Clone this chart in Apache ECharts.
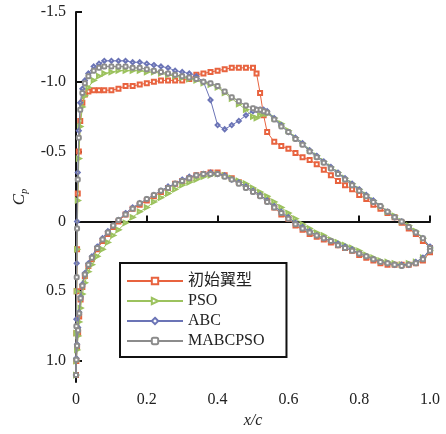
<!DOCTYPE html>
<html>
<head>
    <meta charset="utf-8">
    <title>Cp</title>
    <style>html,body{margin:0;padding:0;background:#fff;}</style>
</head>
<body>
<div id="cpChart" style="width: 446px;height:434px;"></div>
<script type="text/javascript" src="https://cdn.jsdelivr.net/npm/echarts@6/dist/echarts.min.js"></script>

<script type="text/javascript">
    // x/c stations, upper surface (leading edge -> trailing edge)
    var xUpper = [0,0.001,0.002,0.003,0.005,0.008,0.012,0.018,0.025,0.035,0.05,0.065,0.08,0.1,0.12,0.14,0.16,0.18,0.2,0.22,
        0.24,0.26,0.28,0.3,0.32,0.34,0.36,0.38,0.4,0.42,0.44,0.46,0.48,0.5,0.51,0.52,0.53,0.54,0.56,0.58,
        0.6,0.62,0.64,0.66,0.68,0.7,0.72,0.74,0.76,0.78,0.8,0.82,0.84,0.86,0.88,0.9,0.92,0.94,0.96,0.98,1.0];
    // x/c stations, lower surface
    var xLower = [0.001,0.003,0.006,0.009,0.013,0.018,0.025,0.035,0.045,0.06,0.075,0.09,0.105,0.12,0.14,0.16,0.18,0.2,0.22,0.24,
        0.26,0.28,0.3,0.32,0.34,0.36,0.38,0.4,0.42,0.44,0.46,0.48,0.5,0.52,0.54,0.56,0.58,0.6,0.62,0.64,
        0.66,0.68,0.7,0.72,0.74,0.76,0.78,0.8,0.82,0.84,0.86,0.88,0.9,0.92,0.94,0.96,0.98,1.0];

    var initUpper = [1.10,0.80,0.50,0.20,-0.20,-0.50,-0.72,-0.85,-0.91,-0.93,-0.94,-0.94,-0.94,-0.94,-0.95,-0.97,-0.97,-0.98,-0.99,-1.00,
        -1.01,-1.01,-1.01,-1.01,-1.02,-1.05,-1.06,-1.07,-1.08,-1.09,-1.10,-1.10,-1.10,-1.10,-1.06,-0.92,-0.76,-0.64,-0.57,-0.54,
        -0.52,-0.49,-0.46,-0.44,-0.41,-0.37,-0.33,-0.29,-0.26,-0.23,-0.19,-0.16,-0.12,-0.09,-0.06,-0.03,0.01,0.05,0.09,0.14,0.19];
    var initLower = [1.00,0.90,0.80,0.68,0.56,0.47,0.39,0.32,0.27,0.20,0.14,0.09,0.04,0.00,-0.05,-0.09,-0.12,-0.15,-0.18,-0.21,
        -0.24,-0.27,-0.29,-0.31,-0.33,-0.34,-0.35,-0.35,-0.33,-0.31,-0.28,-0.25,-0.22,-0.19,-0.15,-0.10,-0.05,-0.02,0.03,0.06,
        0.09,0.11,0.13,0.15,0.17,0.19,0.21,0.24,0.26,0.28,0.30,0.31,0.31,0.31,0.31,0.30,0.28,0.22];

    var psoUpper = [1.10,0.80,0.50,0.20,-0.15,-0.45,-0.68,-0.82,-0.90,-0.96,-1.01,-1.04,-1.06,-1.07,-1.08,-1.08,-1.08,-1.08,-1.07,-1.07,
        -1.06,-1.05,-1.04,-1.03,-1.02,-1.01,-0.99,-0.98,-0.96,-0.92,-0.88,-0.84,-0.80,-0.75,-0.74,-0.76,-0.77,-0.77,-0.74,-0.70,
        -0.65,-0.60,-0.56,-0.51,-0.47,-0.43,-0.39,-0.35,-0.31,-0.27,-0.23,-0.19,-0.15,-0.11,-0.07,-0.04,0.00,0.03,0.07,0.12,0.19];
    var psoLower = [1.00,0.92,0.82,0.72,0.62,0.52,0.44,0.36,0.31,0.25,0.20,0.15,0.10,0.06,0.01,-0.03,-0.07,-0.10,-0.14,-0.17,
        -0.20,-0.23,-0.26,-0.28,-0.30,-0.32,-0.33,-0.34,-0.33,-0.31,-0.29,-0.27,-0.24,-0.21,-0.18,-0.14,-0.10,-0.06,-0.02,0.02,
        0.05,0.08,0.10,0.13,0.15,0.17,0.19,0.21,0.24,0.26,0.28,0.29,0.30,0.31,0.30,0.29,0.26,0.21];

    var abcUpper = [1.10,0.70,0.30,0.00,-0.35,-0.65,-0.85,-0.95,-1.01,-1.06,-1.11,-1.13,-1.15,-1.15,-1.15,-1.15,-1.14,-1.14,-1.13,-1.12,
        -1.11,-1.10,-1.08,-1.07,-1.06,-1.04,-1.00,-0.87,-0.69,-0.66,-0.69,-0.72,-0.76,-0.79,-0.80,-0.80,-0.80,-0.79,-0.74,-0.69,
        -0.64,-0.60,-0.56,-0.51,-0.47,-0.43,-0.39,-0.35,-0.31,-0.27,-0.23,-0.19,-0.15,-0.11,-0.07,-0.03,0.00,0.04,0.08,0.12,0.18];
    var abcLower = [0.98,0.88,0.76,0.65,0.54,0.45,0.37,0.30,0.25,0.18,0.12,0.07,0.03,-0.01,-0.06,-0.10,-0.13,-0.16,-0.19,-0.22,
        -0.25,-0.27,-0.30,-0.32,-0.33,-0.34,-0.35,-0.34,-0.33,-0.30,-0.28,-0.25,-0.22,-0.19,-0.15,-0.11,-0.07,-0.03,0.01,0.04,
        0.07,0.10,0.12,0.14,0.16,0.18,0.20,0.23,0.25,0.27,0.29,0.30,0.31,0.31,0.31,0.29,0.26,0.20];

    var mabcUpper = [1.10,0.75,0.40,0.05,-0.30,-0.60,-0.80,-0.92,-0.99,-1.04,-1.08,-1.10,-1.11,-1.11,-1.11,-1.11,-1.10,-1.10,-1.09,-1.08,
        -1.07,-1.06,-1.05,-1.04,-1.03,-1.02,-1.00,-0.99,-0.97,-0.93,-0.89,-0.86,-0.83,-0.81,-0.80,-0.80,-0.79,-0.78,-0.73,-0.68,
        -0.64,-0.59,-0.55,-0.50,-0.46,-0.42,-0.38,-0.34,-0.30,-0.26,-0.22,-0.18,-0.14,-0.11,-0.07,-0.03,0.00,0.04,0.08,0.12,0.19];
    var mabcLower = [0.99,0.89,0.78,0.66,0.55,0.46,0.38,0.31,0.26,0.19,0.13,0.08,0.03,-0.01,-0.05,-0.09,-0.13,-0.16,-0.19,-0.22,
        -0.24,-0.27,-0.29,-0.31,-0.33,-0.34,-0.34,-0.34,-0.32,-0.30,-0.27,-0.24,-0.21,-0.18,-0.14,-0.10,-0.06,-0.02,0.02,0.05,
        0.08,0.10,0.12,0.14,0.17,0.19,0.21,0.23,0.25,0.27,0.29,0.30,0.31,0.32,0.31,0.30,0.27,0.21];

    var names = ['初始翼型', 'PSO', 'ABC', 'MABCPSO'];
    var colors = ['#e8633f', '#9cc25e', '#6b74b6', '#8c8c8c'];
    var symbols = ['emptyRect', 'emptyTriangle', 'emptyDiamond', 'emptyRoundRect'];
    var yTicks = [-1.5, -1.0, -0.5, 0, 0.5, 1.0];

    // closed loop: trailing edge -> upper -> leading edge -> lower -> trailing edge
    function loop(up, low) {
        var d = [];
        for (var i = xUpper.length - 1; i >= 0; i--) d.push([xUpper[i], up[i]]);
        for (var j = 0; j < xLower.length; j++) d.push([xLower[j], low[j]]);
        return d;
    }
    var curves = [loop(initUpper, initLower), loop(psoUpper, psoLower), loop(abcUpper, abcLower), loop(mabcUpper, mabcLower)];

    var serif = "'Liberation Serif', 'Noto Sans CJK SC', serif";
    var fmt = function (v) { return v === 0 ? '0' : v.toFixed(1); };

    var myChart = echarts.init(document.getElementById('cpChart'));
    var option = {
        animation: false,
        grid: {left: 76, right: 16, top: 12, bottom: 50},
        legend: {
            orient: 'vertical',
            left: 120, top: 263,
            padding: [10, 22, 8, 6],
            itemGap: 4,
            itemWidth: 56, itemHeight: 8,
            borderColor: '#111', borderWidth: 2,
            backgroundColor: '#fff',
            textStyle: {fontFamily: serif, fontSize: 16, color: '#222'},
            data: names
        },
        xAxis: {
            type: 'value', min: 0, max: 1, interval: 0.2,
            name: 'x/c', nameLocation: 'middle', nameGap: 31,
            nameTextStyle: {fontFamily: serif, fontStyle: 'italic', fontSize: 16, color: '#222'},
            axisLine: {lineStyle: {color: '#111', width: 2}},
            axisTick: {inside: true, length: 6, lineStyle: {color: '#111', width: 2}},
            axisLabel: {formatter: fmt, fontFamily: serif, fontSize: 16, color: '#222', margin: 10},
            splitLine: {show: false}
        },
        yAxis: {
            type: 'value', inverse: true, min: -1.5, max: 1.15,
            name: '{c|C}{p|p}', nameLocation: 'middle', nameGap: 47, nameRotate: 90,
            nameTextStyle: {
                rich: {
                    c: {fontFamily: serif, fontStyle: 'italic', fontSize: 17, color: '#222'},
                    p: {fontFamily: serif, fontStyle: 'italic', fontSize: 10, color: '#222', padding: [8, 0, 0, 0]}
                }
            },
            axisLine: {lineStyle: {color: '#111', width: 2}},
            axisTick: {inside: true, length: 6, customValues: yTicks, lineStyle: {color: '#111', width: 2}},
            axisLabel: {customValues: yTicks, formatter: fmt, fontFamily: serif, fontSize: 16, color: '#222', margin: 10},
            splitLine: {show: false}
        },
        series: names.map(function (n, k) {
            return {
                name: n,
                type: 'line',
                data: curves[k],
                symbol: symbols[k],
                symbolSize: 4,
                symbolRotate: k === 1 ? -90 : 0,
                showAllSymbol: true,
                lineStyle: {color: colors[k], width: 1},
                itemStyle: {color: colors[k], borderColor: colors[k], borderWidth: 0.8},
                z: 2 + k
            };
        })
    };
    myChart.setOption(option);
</script>
</body>
</html>
